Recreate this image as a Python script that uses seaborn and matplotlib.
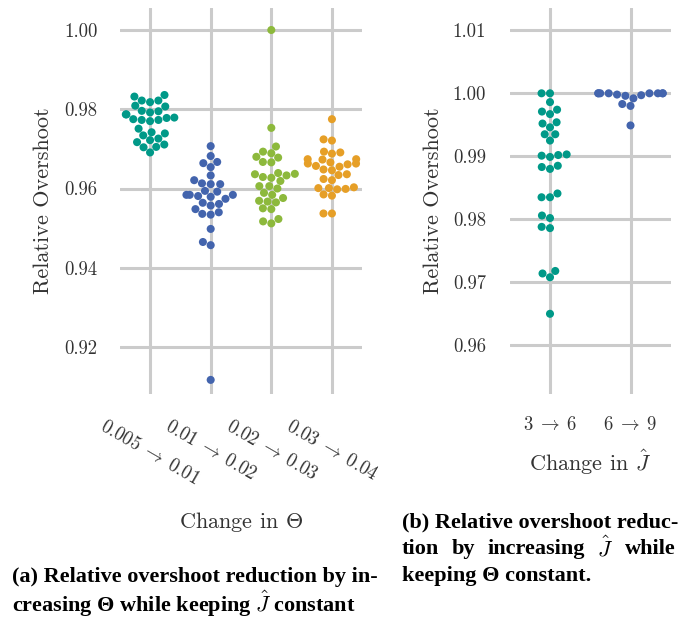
import matplotlib
matplotlib.use("Agg")
import matplotlib.pyplot as plt
import matplotlib.ticker as mticker
import pandas as pd
import seaborn as sns

# ---- data: relative overshoot per run ----
theta_changes = [r"$0.005 \;\rightarrow\; 0.01$", r"$0.01 \;\rightarrow\; 0.02$",
                 r"$0.02 \;\rightarrow\; 0.03$", r"$0.03 \;\rightarrow\; 0.04$"]
theta_005_01 = [0.9832, 0.9822, 0.9818, 0.9822, 0.9836, 0.9807, 0.9796, 0.9792,
                0.9795, 0.9809, 0.9787, 0.9778, 0.9773, 0.9770, 0.9773, 0.9775,
                0.9787, 0.9779, 0.9751, 0.9742, 0.9739, 0.9734, 0.9722, 0.9717,
                0.9726, 0.9704, 0.9691, 0.9705, 0.9711]
theta_01_02 = [0.9707, 0.9682, 0.9667, 0.9664, 0.9654, 0.9633, 0.9611, 0.9611,
               0.9613, 0.9621, 0.9594, 0.9584, 0.9574, 0.9584, 0.9581, 0.9592,
               0.9579, 0.9584, 0.9548, 0.9561, 0.9557, 0.9564, 0.9536, 0.9534,
               0.9540, 0.9498, 0.9465, 0.9457, 0.9117]
theta_02_03 = [1.0000, 0.9753, 0.9706, 0.9693, 0.9689, 0.9680, 0.9678, 0.9667,
               0.9666, 0.9637, 0.9636, 0.9627, 0.9619, 0.9629, 0.9633, 0.9639,
               0.9606, 0.9600, 0.9606, 0.9584, 0.9576, 0.9589, 0.9569, 0.9565,
               0.9567, 0.9550, 0.9548, 0.9517, 0.9512, 0.9523]
theta_03_04 = [0.9775, 0.9724, 0.9721, 0.9693, 0.9688, 0.9691, 0.9673, 0.9666,
               0.9674, 0.9663, 0.9657, 0.9648, 0.9646, 0.9655, 0.9661, 0.9674,
               0.9663, 0.9624, 0.9621, 0.9634, 0.9636, 0.9601, 0.9601, 0.9603,
               0.9598, 0.9599, 0.9585, 0.9582, 0.9537, 0.9537]

j_changes = [r"$3 \;\rightarrow\; 6$", r"$6 \;\rightarrow\; 9$"]
j_3_6 = [1.0000, 1.0000, 0.9986, 0.9971, 0.9967, 0.9974, 0.9952, 0.9946,
         0.9954, 0.9935, 0.9935, 0.9925, 0.9901, 0.9899, 0.9902, 0.9903,
         0.9883, 0.9880, 0.9885, 0.9835, 0.9835, 0.9841, 0.9806, 0.9802,
         0.9788, 0.9786, 0.9714, 0.9708, 0.9718, 0.9650]
j_6_9 = [0.9949, 0.9980, 0.9983, 0.9992, 0.9996, 0.9997, 0.9998,
         1.0000, 1.0000, 1.0000, 1.0000, 1.0000, 1.0000, 1.0000, 1.0000]

colors_theta = ["#009988", "#4364AD", "#8DB93C", "#E69F27"]
colors_j = ["#009988", "#4364AD"]

df_theta = pd.DataFrame({
    "change": sum([[c] * len(v) for c, v in zip(
        theta_changes, [theta_005_01, theta_01_02, theta_02_03, theta_03_04])], []),
    "value": theta_005_01 + theta_01_02 + theta_02_03 + theta_03_04,
})
df_j = pd.DataFrame({
    "change": [j_changes[0]] * len(j_3_6) + [j_changes[1]] * len(j_6_9),
    "value": j_3_6 + j_6_9,
})

# ---- style ----
sns.set_style("whitegrid", {"grid.color": "#cbcbcb", "axes.edgecolor": "white"})
plt.rcParams["mathtext.fontset"] = "cm"
plt.rcParams["font.family"] = ["cmr10", "DejaVu Sans"]
plt.rcParams["axes.formatter.use_mathtext"] = True
plt.rcParams["axes.unicode_minus"] = False

fig = plt.figure(figsize=(6.9, 6.18), dpi=100)
W, H = 690.0, 618.0
top_px, bot_px = 7.5, 394.0
ax_a = fig.add_axes([119.75 / W, 1 - bot_px / H, 242.5 / W, (bot_px - top_px) / H])
ax_b = fig.add_axes([509.75 / W, 1 - bot_px / H, 161.0 / W, (bot_px - top_px) / H])

sns.swarmplot(data=df_theta, x="change", y="value", hue="change",
              order=theta_changes, hue_order=theta_changes, palette=colors_theta,
              size=5.8, legend=False, ax=ax_a)
sns.swarmplot(data=df_j, x="change", y="value", hue="change",
              order=j_changes, hue_order=j_changes, palette=colors_j,
              size=5.8, legend=False, ax=ax_b)

text_col = "#333333"
label_font = {"family": ["cmr10", "DejaVu Sans"], "size": 16}

for ax in (ax_a, ax_b):
    for s in ax.spines.values():
        s.set_visible(False)
    ax.grid(True, axis="both", color="#cbcbcb", linewidth=2.2)
    ax.set_axisbelow(True)
    ax.tick_params(length=0, labelsize=13.5, colors=text_col)
    ax.yaxis.set_major_formatter(mticker.FormatStrFormatter("%.2f"))
    for t in ax.get_yticklabels():
        t.set_fontfamily(["cmr10", "DejaVu Sans"])
    ax.set_ylabel("Relative Overshoot", fontdict=label_font, color=text_col)

# panel (a): change of Theta
ax_a.set_xlim(-0.5, 3.5)
ax_a.set_ylim(0.90814, 1.00568)
ax_a.set_yticks([0.92, 0.94, 0.96, 0.98, 1.00])
ax_a.tick_params(axis="y", pad=16)
ax_a.tick_params(axis="x", pad=17)
for t in ax_a.get_xticklabels():
    t.set_rotation(-30)
    t.set_ha("center")
    t.set_va("top")
ax_a.set_xlabel(r"Change in $\Theta$", fontdict=label_font, color=text_col)
ax_a.xaxis.set_label_coords(0.5, -0.30)
ax_a.yaxis.set_label_coords(-0.275, 0.5)

# panel (b): change of J-hat
ax_b.set_xlim(-0.5, 1.5)
ax_b.set_ylim(0.95227, 1.01362)
ax_b.set_yticks([0.96, 0.97, 0.98, 0.99, 1.00, 1.01])
ax_b.tick_params(axis="y", pad=17)
ax_b.tick_params(axis="x", pad=16)
ax_b.set_xlabel(r"Change in $\hat{J}$", fontdict=label_font, color=text_col)
ax_b.xaxis.set_label_coords(0.5, -0.14)
ax_b.yaxis.set_label_coords(-0.415, 0.5)

# ---- captions ----
cap = {"family": "Liberation Serif", "weight": "bold", "size": 16, "color": "black"}
fig.text(12 / W, 1 - 577 / H, "(a) Relative overshoot reduction by in-",
         va="center", ha="left", fontdict=cap)
fig.text(12 / W, 1 - 604 / H, r"creasing Θ while keeping $\hat{J}$ constant",
         va="center", ha="left", fontdict=cap)
fig.text(402 / W, 1 - 522 / H, "(b) Relative overshoot reduc-",
         va="center", ha="left", fontdict=cap)
fig.text(402 / W, 1 - 576 / H, "keeping Θ constant.",
         va="center", ha="left", fontdict=cap)

# justified middle line of caption (b)
line2 = ["tion", "by", "increasing", r"$\hat{J}$", "while"]
words = [fig.text(0, 1 - 549 / H, w, va="center", ha="left", fontdict=cap)
         for w in line2]
fig.canvas.draw()
renderer = fig.canvas.get_renderer()
widths = [w.get_window_extent(renderer).width for w in words]
left, right = 402.0, 676.0
gap = (right - left - sum(widths)) / (len(words) - 1)
x = left
for w, wd in zip(words, widths):
    w.set_x(x / W)
    x += wd + gap

fig.savefig("out.png", dpi=100)
